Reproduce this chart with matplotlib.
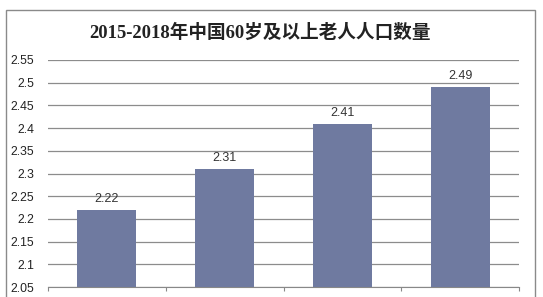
import numpy as np
import matplotlib.pyplot as plt
from matplotlib.patches import Rectangle

plt.rcParams['font.family'] = ['Liberation Sans', 'Noto Sans CJK SC', 'DejaVu Sans']

years = ['2015', '2016', '2017', '2018']
values = [2.22, 2.31, 2.41, 2.49]
yticks = [2.05, 2.1, 2.15, 2.2, 2.25, 2.3, 2.35, 2.4, 2.45, 2.5, 2.55]
title = '2015-2018年中国60岁及以上老人人口数量'

W, H = 543, 297
fig = plt.figure(figsize=(W / 100, H / 100), dpi=100)
fig.patch.set_facecolor('white')

# outer chart frame
fig.patches.append(Rectangle((6 / W, -0.05), 529 / W, 1.05 - 10 / H,
                             transform=fig.transFigure, fill=False,
                             edgecolor='#8a8a8a', linewidth=1.0))

ax = fig.add_axes([48 / W, 10 / H, 471 / W, 227 / H])
x = np.arange(len(values))
ax.bar(x, [v - 2.05 for v in values], bottom=2.05, width=0.5,
       color='#6f7aa0', zorder=3)
for xi, v in zip(x, values):
    ax.text(xi, v + 0.011, '%.2f' % v, ha='center', va='bottom',
            fontsize=9, color='#333333')

ax.set_xlim(-0.5, 3.5)
ax.set_ylim(2.05, 2.55)
ax.set_yticks(yticks)
ax.set_yticklabels(['%g' % t for t in yticks], fontsize=8.8, color='#222222')
ax.set_xticks([-0.5, 0.5, 1.5, 2.5, 3.5])
ax.set_xticklabels([])
ax.tick_params(axis='y', length=0, pad=10)
ax.tick_params(axis='x', length=3, color='#888888', direction='out')
ax.grid(axis='y', color='#8c8c8c', linewidth=0.9, zorder=0)
for s in ['top', 'right', 'left']:
    ax.spines[s].set_visible(False)
ax.spines['bottom'].set_color('#888888')

fig.text(260 / W, 1 - 33 / H, title, ha='center', va='center',
         fontsize=13.4, fontweight='bold', color='#222222',
         family=['Liberation Serif', 'Noto Sans CJK SC'])

fig.savefig('out.png', dpi=100)
